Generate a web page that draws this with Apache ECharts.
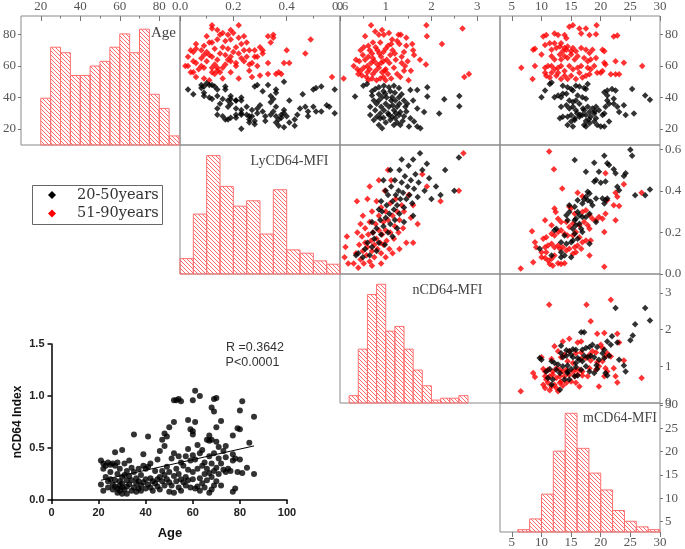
<!DOCTYPE html>
<html>
<head>
<meta charset="utf-8">
<script src="https://cdn.jsdelivr.net/npm/echarts@6.0.0/dist/echarts.min.js"></script>
<style>
html, body { margin: 0; padding: 0; background: #fff; }
#chart { width: 685px; height: 549px; }
</style>
</head>
<body>
<div id="chart"></div>
<script>
// ---- tick labels ----
const ageTicks = [20, 40, 60, 80];
const lyTicks = [0, 0.2, 0.4, 0.6];
const nTicks = [0, 1, 2, 3];
const mTicks = [5, 10, 15, 20, 25, 30];
const ageMinor = [30, 50, 70];
const lyMinor = [0.1, 0.3, 0.5];
const nMinor = [0.5, 1.5, 2.5];
const mMinor = [];

// ---- histograms (bin edges + bar heights as read on the panel's own axis) ----
const ageEdges = [20, 25, 30, 35, 40, 45, 50, 55, 60, 65, 70, 75, 80, 85, 90];
const ageHeights = [39.5, 72, 68.5, 54, 54, 60, 63, 72, 80.5, 68.5, 83.5, 42, 33, 15.5];
const lyEdges = [0, 0.05, 0.1, 0.15, 0.2, 0.25, 0.3, 0.35, 0.4, 0.45, 0.5, 0.55, 0.6];
const lyHeights = [0.074, 0.288, 0.569, 0.421, 0.326, 0.352, 0.192, 0.405, 0.116, 0.1, 0.063, 0.047];
const nEdges = [0.2, 0.4, 0.6, 0.8, 1.0, 1.2, 1.4, 1.6, 1.8, 2.0, 2.2, 2.4, 2.6, 2.8];
const nHeights = [0.2, 1.47, 2.96, 3.24, 1.96, 2.09, 1.47, 0.9, 0.47, 0.08, 0.13, 0.13, 0.2];
const mEdges = [6, 8, 10, 12, 14, 16, 18, 20, 22, 24, 26, 28, 30];
const mHeights = [3.3, 5.6, 10.9, 20.1, 28.2, 20.7, 15.4, 11.8, 7.4, 5.1, 3.9, 3.3];

// ---- scatter panels: [x, y] ----
// Age (y) vs LyCD64 (x)
const lyAgeRed = [[0.12,86],[0.12,84],[0.22,86],[0.14,83],[0.16,81],[0.19,83],[0.18,80],[0.20,81],[0.06,74],[0.09,73],[0.11,75],[0.12,75],[0.14,77],[0.17,76],[0.16,72],[0.19,77],[0.22,78],[0.24,79],[0.23,74],[0.25,75],[0.21,72],[0.24,70],[0.26,70],[0.28,70],[0.30,72],[0.31,70],[0.33,79],[0.35,80],[0.35,78],[0.34,75],[0.40,70],[0.47,68],[0.49,77],
  [0.02,60],[0.03,60],[0.04,70],[0.05,69],[0.06,71],[0.08,70],[0.05,63],[0.06,62],[0.08,65],[0.09,67],[0.10,69],[0.11,67],[0.12,66],[0.14,64],[0.13,61],[0.12,59],[0.14,57],[0.15,56],[0.16,59],[0.17,61],[0.18,64],[0.19,66],[0.19,63],[0.21,62],[0.21,60],[0.23,65],[0.24,63],[0.25,66],[0.26,61],[0.27,62],[0.28,66],[0.29,66],[0.31,68],[0.33,62],[0.29,60],[0.27,53],[0.30,54],[0.33,55],[0.36,55],[0.38,55],[0.37,56],[0.39,62],[0.41,62],[0.04,56],[0.05,56],[0.06,53],[0.09,52],[0.11,51],[0.12,56],[0.13,55],[0.14,59],[0.16,52],[0.19,56],[0.22,52],[0.57,53],[0.08,60],[0.09,59],[0.18,71],[0.20,69],[0.03,66],[0.07,58],[0.10,63],[0.15,68],[0.22,68],[0.17,67],[0.26,57],[0.13,71],[0.10,79],[0.15,80]];
const lyAgeBlack = [[0.03,45],[0.08,48],[0.08,46],[0.09,47],[0.10,49],[0.11,48],[0.12,48],[0.13,47],[0.14,45],[0.17,47],[0.09,41],[0.11,40],[0.12,39],[0.14,41],[0.16,39],[0.18,38],[0.19,39],[0.19,41],[0.21,38],[0.23,38],[0.15,36],[0.18,34],[0.19,36],[0.21,33],[0.23,32],[0.14,33],[0.14,29],[0.16,28],[0.17,26],[0.18,26],[0.19,27],[0.21,27],[0.21,29],[0.23,30],[0.23,20],[0.26,26],[0.27,28],[0.26,24],[0.28,23],[0.28,25],[0.29,30],[0.27,32],[0.26,28],[0.30,35],[0.29,33],[0.31,31],[0.32,28],[0.34,29],[0.35,31],[0.36,34],[0.34,41],[0.35,39],[0.36,45],[0.36,43],[0.34,37],[0.36,28],[0.38,29],[0.39,30],[0.37,26],[0.38,27],[0.36,24],[0.37,22],[0.39,21],[0.41,38],[0.39,32],[0.40,28],[0.44,29],[0.43,26],[0.43,22],[0.45,33],[0.47,34],[0.48,28],[0.48,31],[0.50,34],[0.51,31],[0.53,31],[0.55,35],[0.56,34],[0.58,30],[0.50,45],[0.51,46],[0.53,47],[0.58,45],[0.33,48],[0.39,50],[0.28,47],[0.29,48],[0.23,29],[0.25,29],[0.23,40],[0.21,38],[0.25,34],[0.17,45],[0.09,43],[0.05,42],[0.32,25],[0.41,24],[0.46,42],[0.31,44]];

// Age (y) vs nCD64 (x)
const nAgeRed = [[0.68,86],[1.89,86],[2.68,84],[1.90,79],[2.23,74],[0.55,79],[0.77,82],[0.85,80],[0.92,83],[0.96,80],[1.07,81],[1.14,77],[1.28,80],[1.33,80],[1.45,78],[1.25,76],[1.30,74],[1.45,73],[1.58,74],[1.60,70],[1.62,67],[1.75,64],[1.88,61],[0.45,70],[0.52,72],[0.62,73],[0.65,70],[0.70,68],[0.72,75],[0.78,72],[0.82,70],[0.86,68],[0.90,66],[0.95,69],[1.00,71],[1.05,73],[1.10,67],[1.15,70],[1.20,68],[1.22,64],[1.35,66],[1.40,69],[1.48,63],[1.42,60],[1.55,57],[1.40,57],[0.35,64],[0.42,63],[0.55,64],[0.62,66],[0.68,62],[0.75,63],[0.82,61],[0.90,62],[0.95,63],[1.02,64],[1.08,62],[0.30,60],[0.38,58],[0.45,57],[0.52,59],[0.60,56],[0.65,58],[0.72,55],[0.78,57],[0.85,59],[0.92,56],[1.00,58],[1.05,55],[0.40,55],[0.48,54],[0.58,53],[0.70,52],[0.80,51],[0.88,52],[0.95,53],[1.00,51],[1.12,52],[1.25,55],[1.32,53],[0.62,51],[2.72,53],[2.82,55],[0.08,52],[1.18,59],[1.50,51],[0.98,57],[0.50,67],[0.88,75],[1.12,74],[0.60,60],[1.35,62],[0.72,65]];
const nAgeBlack = [[0.51,47.5],[0.59,48.5],[0.77,45.4],[0.85,46.5],[0.96,47.5],[1.07,46.5],[1.18,47.5],[1.29,46],[1.54,44.8],[1.69,44.8],[1.91,46.5],[1.91,40.6],[2.28,38.8],[2.61,41],[2.61,34.4],[0.33,40.6],[0.70,41.3],[0.74,38.1],[0.85,38.1],[0.92,40.2],[0.99,42.3],[1.14,40.2],[1.21,38.1],[1.29,40.2],[1.40,38.1],[1.47,36],[1.69,32.9],[1.84,30.8],[2.17,29.8],[0.66,34],[0.77,31.9],[0.88,29.8],[0.96,31.9],[1.07,34],[1.18,31.9],[1.25,34],[1.32,30.8],[1.43,34],[0.81,27.7],[0.88,26.7],[1.07,28.8],[1.14,27.7],[1.21,26.7],[1.29,28.8],[1.54,26.7],[1.62,24.6],[0.85,22.5],[0.92,20.4],[1.18,22.5],[1.32,22.5],[1.51,21.5],[1.69,21.5],[1.76,20.4],[1.10,25.6],[0.66,28.8],[0.74,25.6],[0.95,44],[1.00,36],[1.10,44],[1.20,43],[1.35,42],[1.05,30],[1.15,35],[1.25,24],[0.80,36],[0.90,34],[1.40,28],[1.00,24],[0.70,44],[1.45,31],[1.60,38],[1.12,38],[0.95,27],[1.22,30],[1.30,36],[0.85,42],[1.02,40],[1.37,25]];

// Age (y) vs mCD64 (x)
const mAgeRed = [[14.7,85],[15.3,86],[16.4,84],[17.5,84],[19.3,86],[10.3,78.8],[10.8,79.8],[12.2,80.8],[12.8,79.8],[13.9,79.8],[14.2,77.7],[16.7,80.8],[18.1,79.8],[19.2,80.2],[22.2,78.8],[22.8,79.4],[8.6,70.4],[8.9,71],[10,67.3],[10.6,73.5],[11.4,74.6],[11.7,70.4],[12.2,74.6],[12.5,71.5],[13.1,72.5],[13.3,74.6],[13.6,69.4],[13.9,71.5],[14.2,70.4],[14.4,72.5],[15,69.4],[15.3,71.5],[15.8,69.4],[16.7,71.5],[17.5,70.4],[18.1,68.3],[18.6,70.4],[20.3,70.4],[20.6,69.4],[11.7,66.3],[12.2,64.2],[13.1,67.3],[13.3,64.2],[13.9,66.3],[14.4,65.2],[15,67.3],[15.6,64.2],[16.1,66.3],[17.2,65.2],[17.8,63.1],[18.3,64.2],[19.2,65.2],[20.6,62.1],[20.8,61],[22.5,63.1],[23.9,62.1],[27,60],[6.6,59],[8.9,60],[10.6,59],[11.1,60],[11.7,60],[12.2,57.9],[12.8,59],[13.3,60],[13.9,56.9],[14.7,60],[15.3,57.9],[16.1,59],[16.7,60],[17.8,59],[18.3,57.9],[18.9,60],[20,55.8],[21.7,54.8],[22.5,54.8],[23.1,54.8],[8.5,51.7],[10.6,55.8],[10.8,53.8],[11.4,52.7],[11.7,55.8],[12.5,53.8],[12.8,55.8],[13.3,51.7],[13.9,53.8],[14.4,51.7],[15,53.8],[15.8,51.7],[16.4,55.8],[16.9,52.7],[17.5,53.8],[18.1,54.8],[19.4,55.8],[20.3,56.9]];
const mAgeBlack = [[11.4,48.5],[11.7,49.6],[10.6,44.4],[10,40.2],[12.2,40.2],[12.8,41.3],[13.3,40.2],[13.6,42.3],[14.2,42.3],[13.6,47.5],[14.4,46.5],[15,45.4],[15.3,44.4],[15.8,47.5],[16.4,46.9],[17.2,46],[17.5,45.4],[17.8,48.5],[14.7,38.1],[15.3,37.1],[15.8,38.1],[16.1,41.3],[16.9,40.2],[17.5,39.2],[13.3,34],[14.2,35],[14.7,32.9],[15.3,34],[15.8,31.9],[16.4,36],[17.2,31.9],[17.8,34],[18.1,30.8],[18.6,32.9],[19.2,34],[19.7,31.9],[20.3,28.8],[20.6,29.8],[20.8,34],[21.1,38.1],[20.6,43.3],[21.1,44.4],[21.9,45.4],[22.5,44.4],[21.1,41.3],[22.2,39.2],[21.4,36],[22.2,36],[22.8,34],[23.1,30.8],[23.9,35],[24.2,28.8],[25.6,29.8],[25.3,45.4],[27.5,41.3],[28.3,38.5],[13.1,26.7],[13.6,27.7],[14.4,27.7],[15,28.8],[15.6,26.7],[16.4,27.7],[16.9,28.8],[17.5,28.8],[18.3,27.7],[18.9,29.8],[19.2,26.7],[17.2,22.5],[17.5,21.5],[18.1,23.5],[18.9,24.6],[19.4,22.5],[20,21.5],[20.6,21.5],[21.4,24.6],[15,24.6],[14.4,22.5],[15.3,21.5],[15.6,25.6],[16,30],[17,33],[18,26],[19,31],[16.5,29],[17.5,25]];

// LyCD64 (y) vs nCD64 (x)
const nLyRed = [[0.3,0.05],[0.35,0.1],[0.4,0.03],[0.42,0.14],[0.45,0.07],[0.48,0.18],[0.5,0.11],[0.52,0.05],[0.55,0.15],[0.55,0.22],[0.58,0.09],[0.6,0.13],[0.62,0.19],[0.65,0.06],[0.65,0.25],[0.68,0.16],[0.7,0.11],[0.7,0.3],[0.72,0.2],[0.75,0.14],[0.75,0.08],[0.78,0.24],[0.8,0.17],[0.8,0.35],[0.82,0.12],[0.85,0.21],[0.85,0.28],[0.88,0.15],[0.9,0.1],[0.9,0.32],[0.92,0.19],[0.95,0.25],[0.95,0.14],[0.98,0.4],[1.0,0.21],[1.0,0.3],[1.02,0.16],[1.05,0.26],[1.08,0.12],[1.1,0.34],[1.1,0.2],[1.12,0.45],[1.15,0.28],[1.18,0.17],[1.2,0.23],[1.22,0.36],[1.25,0.3],[1.28,0.2],[1.3,0.26],[1.35,0.33],[1.38,0.22],[1.4,0.3],[1.45,0.15],[1.5,0.38],[1.55,0.27],[1.6,0.33],[1.7,0.24],[1.8,0.48],[1.9,0.42],[2.2,0.35],[2.7,0.58],[2.6,0.4],[0.6,0.36],[0.5,0.28],[0.45,0.24],[0.38,0.2],[0.9,0.05],[1.0,0.08],[1.15,0.1],[0.7,0.04],[1.3,0.12],[0.85,0.45],[1.6,0.15],[0.65,0.42],[1.05,0.5],[0.12,0.13],[0.15,0.18],[0.1,0.08],[0.18,0.05],[0.37,0.35]];
const nLyBlack = [[0.4,0.1],[0.5,0.08],[0.55,0.12],[0.6,0.15],[0.65,0.09],[0.7,0.13],[0.72,0.2],[0.75,0.17],[0.8,0.11],[0.8,0.22],[0.85,0.15],[0.88,0.26],[0.9,0.19],[0.92,0.3],[0.95,0.23],[0.98,0.14],[1.0,0.27],[1.02,0.33],[1.05,0.2],[1.05,0.38],[1.08,0.29],[1.1,0.24],[1.12,0.42],[1.15,0.35],[1.18,0.31],[1.2,0.26],[1.2,0.45],[1.22,0.38],[1.25,0.33],[1.28,0.4],[1.3,0.29],[1.3,0.5],[1.32,0.36],[1.35,0.44],[1.38,0.39],[1.4,0.32],[1.42,0.47],[1.45,0.36],[1.48,0.42],[1.5,0.52],[1.52,0.38],[1.55,0.45],[1.58,0.34],[1.6,0.55],[1.62,0.41],[1.65,0.48],[1.7,0.37],[1.72,0.44],[1.75,0.58],[1.8,0.5],[1.85,0.4],[1.9,0.53],[1.95,0.46],[2.0,0.36],[2.1,0.42],[2.2,0.38],[2.3,0.5],[2.5,0.4],[2.6,0.56],[1.0,0.4],[0.9,0.35],[1.15,0.18],[1.25,0.22],[0.7,0.25],[1.4,0.25],[1.1,0.5],[1.35,0.55],[0.95,0.45],[1.6,0.28],[0.85,0.31],[0.35,0.09]];

// LyCD64 (y) vs mCD64 (x)
const mLyRed = [[11.3,0.589],[12.1,0.503],[13.5,0.411],[16.1,0.39],[16.9,0.374],[20.8,0.484],[23.9,0.431],[22.5,0.39],[22.8,0.371],[21.1,0.355],[22.2,0.331],[23.1,0.327],[26.9,0.39],[20.8,0.29],[20.3,0.265],[12.2,0.315],[12.4,0.298],[14.7,0.323],[15,0.315],[15.6,0.29],[16.9,0.298],[17.5,0.306],[18.1,0.282],[18.6,0.265],[19.2,0.258],[19.7,0.274],[10.6,0.258],[11.7,0.234],[12.8,0.266],[13.3,0.25],[14.2,0.25],[14.7,0.226],[15.3,0.242],[16.4,0.234],[17.2,0.25],[17.8,0.234],[18.1,0.218],[20.6,0.202],[22.5,0.258],[8.4,0.206],[8.9,0.153],[9.1,0.129],[10.3,0.169],[10.8,0.177],[11.7,0.194],[12.2,0.185],[12.8,0.202],[13.3,0.21],[13.9,0.194],[14.4,0.185],[15.3,0.185],[15.8,0.202],[16.4,0.177],[16.9,0.153],[17.5,0.161],[18.3,0.161],[10.6,0.129],[11.1,0.137],[11.7,0.145],[12.2,0.129],[12.8,0.137],[13.1,0.121],[13.6,0.129],[14.2,0.113],[14.7,0.121],[15.6,0.129],[16.1,0.137],[16.7,0.121],[18.1,0.089],[10,0.081],[10.6,0.077],[11.1,0.065],[11.7,0.073],[12.2,0.089],[12.8,0.052],[13.3,0.048],[13.9,0.052],[8.6,0.056],[6.5,0.027],[11.4,0.048],[11.9,0.04],[20.6,0.035],[10,0.105],[15.3,0.097],[15.8,0.105],[10.8,0.105]];
const mLyBlack = [[25,0.597],[25.3,0.568],[15.6,0.548],[20.6,0.568],[18.9,0.535],[17.5,0.492],[19.7,0.492],[21.1,0.532],[21.4,0.524],[22.2,0.503],[22.5,0.484],[24.2,0.484],[23.9,0.471],[19.2,0.452],[18.9,0.444],[20,0.439],[20.8,0.444],[22.8,0.419],[23.1,0.403],[25.8,0.379],[27.5,0.379],[28.3,0.406],[17.8,0.395],[18.1,0.387],[17.5,0.371],[17.2,0.358],[16.9,0.339],[17.8,0.355],[18.3,0.347],[19.2,0.363],[20.3,0.363],[20.8,0.355],[20.6,0.339],[21.1,0.363],[15.6,0.323],[16.1,0.298],[16.4,0.282],[16.9,0.274],[15.8,0.266],[15.6,0.258],[14.4,0.258],[14.2,0.282],[14.7,0.298],[16.4,0.242],[16.7,0.218],[16.9,0.202],[15.3,0.218],[15.6,0.194],[16.1,0.169],[15.3,0.161],[15,0.153],[13.9,0.185],[12.5,0.218],[12.2,0.21],[13.3,0.153],[14.2,0.145],[18.1,0.145],[13.3,0.105],[13.9,0.089],[15,0.081],[13.3,0.081],[11.7,0.089],[9.7,0.121],[14.7,0.331],[18.1,0.29],[19.2,0.25],[17.5,0.274],[18.6,0.331],[16.1,0.355],[15.8,0.234]];

// nCD64 (y) vs mCD64 (x)
const mNRed = [[11.3,2.68],[17.6,2.68],[21.7,2.82],[18.3,2.23],[19.4,1.89],[20.6,1.91],[22.8,1.89],[23.1,1.65],[14.7,1.75],[16.1,1.65],[16.7,1.68],[13.6,1.68],[12.2,1.55],[12.8,1.41],[13.9,1.32],[14.7,1.41],[15.8,1.36],[16.7,1.38],[18.1,1.32],[18.6,1.41],[19.2,1.38],[20,1.59],[20.3,1.5],[20.8,1.27],[21.1,1.36],[10,1.25],[11.7,1.2],[13.3,1.25],[14.4,1.14],[15.3,1.09],[16.7,1.2],[17.5,1.23],[18.3,1.16],[19.4,1.11],[20.3,1.14],[21.7,1.27],[23.9,1.16],[8.6,0.82],[8.9,0.71],[10.3,0.93],[10.6,0.86],[11.1,0.91],[11.9,0.86],[12.5,0.95],[13.1,0.91],[13.6,0.86],[14.2,0.91],[15.3,0.86],[15.8,0.91],[16.4,0.91],[16.9,0.86],[18.1,0.95],[19.2,0.91],[19.7,1],[20.8,0.95],[21.1,0.86],[22.2,0.95],[10.6,0.73],[10.8,0.64],[11.4,0.73],[11.9,0.77],[12.5,0.68],[13.1,0.73],[13.9,0.73],[14.7,0.77],[15.6,0.73],[16.1,0.77],[16.9,0.75],[17.8,0.73],[20.6,0.73],[22.5,0.73],[22.8,0.56],[26.9,0.68],[11.1,0.55],[11.7,0.45],[12.2,0.5],[13.1,0.55],[13.6,0.47],[14.2,0.55],[15,0.59],[15.8,0.55],[16.4,0.45],[19.7,0.45],[10.3,0.5],[10.6,0.41],[12.5,0.41],[6.5,0.32],[11.4,0.35],[12.8,0.32],[13.3,0.59]];
const mNBlack = [[22.5,2.59],[27.5,2.59],[28.3,2.25],[25.8,2.15],[25.4,1.84],[25,1.71],[16.7,1.93],[17.2,1.93],[21.1,1.68],[22.8,1.65],[21.7,1.59],[20.6,1.45],[19.4,1.53],[18.6,1.59],[18.1,1.53],[17.5,1.5],[16.9,1.45],[15.8,1.45],[15.3,1.47],[14.7,1.41],[14.2,1.44],[13.3,1.56],[13.3,1.36],[13.6,1.25],[14.2,1.29],[15,1.32],[15.3,1.25],[16.1,1.23],[16.4,1.18],[17.2,1.29],[17.8,1.25],[18.3,1.29],[18.9,1.25],[19.7,1.18],[20.6,1.23],[21.4,1.29],[23.1,1.18],[23.9,1.02],[24.2,0.86],[10,1.18],[9.7,1.23],[11.7,1.14],[12.2,1.09],[12.8,1.05],[13.6,1],[14.4,1.02],[15,0.93],[15.8,0.98],[16.7,0.91],[17.5,1],[18.1,0.86],[18.9,0.82],[19.4,0.93],[20.8,0.82],[21.1,0.75],[12.5,0.91],[13.1,0.82],[14.4,0.82],[15.6,0.73],[16.1,0.75],[10.8,0.86],[11.1,0.68],[14.7,0.64],[11.7,0.5],[13.1,0.36],[11.9,0.64],[13.9,0.64],[14.4,0.86],[11.4,0.93],[15.8,1.09],[16.9,1.14],[20.3,1.36],[21.9,1.82],[19.3,1.03]];

// ---- inset: nCD64 index vs age ----
const insetPoints = [[21,0.38],[21,0.15],[22,0.35],[22,0.09],[22,0.30],[23,0.33],[23,0.22],[24,0.36],[24,0.18],[24,0.12],[25,0.34],[25,0.27],[25,0.20],[26,0.35],[26,0.15],[26,0.10],[27,0.46],[27,0.33],[27,0.19],[27,0.13],[28,0.36],[28,0.25],[28,0.11],[28,0.07],[29,0.30],[29,0.18],[29,0.14],[29,0.09],[30,0.48],[30,0.22],[30,0.16],[30,0.12],[30,0.06],
  [31,0.35],[31,0.24],[31,0.10],[32,0.28],[32,0.19],[32,0.13],[32,0.06],[33,0.38],[33,0.23],[33,0.15],[34,0.31],[34,0.19],[34,0.09],[35,0.63],[35,0.27],[35,0.12],[36,0.21],[36,0.16],[36,0.08],[37,0.30],[37,0.18],[37,0.11],[38,0.24],[38,0.14],[38,0.09],[39,0.44],[39,0.33],[39,0.17],[40,0.30],[40,0.20],[40,0.11],
  [41,0.61],[41,0.32],[41,0.15],[42,0.35],[42,0.21],[42,0.12],[43,0.18],[43,0.09],[44,0.28],[44,0.16],[45,0.39],[45,0.20],[45,0.13],[46,0.47],[46,0.22],[46,0.10],[47,0.58],[47,0.18],[47,0.28],[48,0.52],[48,0.64],[48,0.24],[48,0.14],[49,0.61],[49,0.32],[49,0.20],[50,0.70],[50,0.27],[50,0.17],[50,0.08],
  [51,0.40],[51,0.14],[52,0.96],[52,0.75],[52,0.45],[52,0.23],[52,0.07],[53,0.96],[53,0.30],[53,0.18],[54,0.97],[54,0.42],[54,0.25],[54,0.12],[55,0.95],[55,0.36],[55,0.20],[55,0.09],[56,0.33],[56,0.17],[57,0.42],[57,0.22],[57,0.14],[58,0.49],[58,0.77],[58,0.29],[58,0.19],[59,0.68],[59,0.38],[59,0.12],[60,0.96],[60,0.66],[60,0.63],[60,0.43],[60,0.27],[60,0.20],
  [61,1.05],[61,0.75],[61,0.39],[61,0.11],[62,0.53],[62,0.30],[62,0.13],[63,1.00],[63,0.45],[63,0.21],[63,0.09],[64,0.48],[64,0.33],[64,0.16],[65,0.36],[65,0.25],[65,0.12],[66,0.58],[66,0.30],[66,0.19],[67,0.62],[67,0.57],[67,0.42],[67,0.26],[67,0.07],[68,0.89],[68,0.58],[68,0.35],[68,0.22],[68,0.10],[69,0.97],[69,0.85],[69,0.45],[69,0.28],[69,0.14],[70,0.98],[70,0.70],[70,0.56],[70,0.31],[70,0.18],
  [71,0.51],[71,0.40],[71,0.25],[72,0.76],[72,0.35],[72,0.14],[73,0.47],[73,0.29],[74,0.52],[74,0.41],[74,0.27],[75,0.30],[76,0.28],[77,0.62],[77,0.44],[77,0.38],[77,0.08],[78,0.40],[78,0.11],[79,0.69],[79,0.27],[80,0.86],[80,0.68],[80,0.39],[81,0.95],[81,0.26],[83,0.31],[84,0.55],[86,0.80],[86,0.25]];
const fitLine = [[21, 0.19], [86, 0.52]];

// ---- layout ----
const colX = [19, 180, 340, 500, 660];
const rowY = [14, 145, 274, 403, 532];
const keys = ['age', 'ly', 'n', 'm'];
const xRange = { age: [10, 90.5], ly: [0, 0.6], n: [0, 3.5], m: [3, 30] };
const yRange = { age: [9.7, 91.9], ly: [0, 0.62], n: [0, 3.52], m: [2.8, 30.4] };
const ticks = { age: ageTicks, ly: lyTicks, n: nTicks, m: mTicks };
const minor = { age: ageMinor, ly: lyMinor, n: nMinor, m: mMinor };
const hists = {
  age: [ageEdges, ageHeights], ly: [lyEdges, lyHeights],
  n: [nEdges, nHeights], m: [mEdges, mHeights]
};
const pairs = {
  '01': [lyAgeBlack, lyAgeRed], '02': [nAgeBlack, nAgeRed], '03': [mAgeBlack, mAgeRed],
  '12': [nLyBlack, nLyRed], '13': [mLyBlack, mLyRed], '23': [mNBlack, mNRed]
};

// hatch pattern for the histogram bars
const hatch = document.createElement('canvas');
hatch.width = 4; hatch.height = 4;
const hc = hatch.getContext('2d');
hc.strokeStyle = 'rgba(255,60,60,0.85)';
hc.lineWidth = 0.9;
hc.beginPath();
hc.moveTo(-1, -1); hc.lineTo(5, 5);
hc.moveTo(-1, 3); hc.lineTo(1, 5);
hc.moveTo(3, -1); hc.lineTo(5, 1);
hc.stroke();
const hatchFill = { image: hatch, repeat: 'repeat' };

const labelStyle = { fontFamily: 'Liberation Serif', fontSize: 13, color: '#555' };
const fmt = (k) => (v) => (k === 'ly' ? v.toFixed(1) : String(v));

const grids = [], xAxes = [], yAxes = [], series = [];
const extraX = [];

for (let r = 0; r < 4; r++) {
  for (let c = r; c < 4; c++) {
    const gi = grids.length;
    grids.push({
      left: colX[c], top: rowY[r],
      width: colX[c + 1] - colX[c], height: rowY[r + 1] - rowY[r],
      show: true, borderColor: '#8a8a8a', borderWidth: 1, backgroundColor: 'transparent'
    });
    const kx = keys[c], ky = keys[r];
    const topLabels = r === 0;
    const bottomLabels = r === 3 && c === 3;
    const showX = topLabels || bottomLabels;
    xAxes.push({
      type: 'value', gridIndex: gi, min: xRange[kx][0], max: xRange[kx][1],
      position: topLabels ? 'top' : 'bottom',
      axisLine: { show: false }, splitLine: { show: false },
      axisTick: { show: showX, inside: topLabels, length: 5, customValues: ticks[kx], lineStyle: { color: '#777' } },
      axisLabel: { show: showX, customValues: ticks[kx], margin: topLabels ? 3 : 4, formatter: fmt(kx), ...labelStyle }
    });
    if (topLabels && minor[kx].length) {
      extraX.push({
        type: 'value', gridIndex: gi, min: xRange[kx][0], max: xRange[kx][1], position: 'top',
        axisLine: { show: false }, splitLine: { show: false }, axisLabel: { show: false },
        axisTick: { show: true, inside: true, length: 2.5, customValues: minor[kx], lineStyle: { color: '#777' } }
      });
    }
    const rightLabels = c === 3;
    const leftLabels = c === 0 && r === 0;
    const showY = rightLabels || leftLabels;
    yAxes.push({
      type: 'value', gridIndex: gi, min: yRange[ky][0], max: yRange[ky][1],
      position: rightLabels ? 'right' : 'left',
      axisLine: { show: false }, splitLine: { show: false },
      axisTick: { show: showY, length: 3, customValues: ticks[ky], lineStyle: { color: '#777' } },
      axisLabel: { show: showY, customValues: ticks[ky], margin: 5, formatter: fmt(ky), ...labelStyle }
    });

    if (r === c) {
      const [edges, heights] = hists[kx];
      const base = yRange[ky][0];
      series.push({
        type: 'custom', xAxisIndex: gi, yAxisIndex: gi, silent: true,
        data: heights.map((h, i) => [edges[i], edges[i + 1], h]),
        encode: { x: [0, 1], y: 2 },
        renderItem: (params, api) => {
          const p0 = api.coord([api.value(0), api.value(2)]);
          const p1 = api.coord([api.value(1), base]);
          return {
            type: 'rect',
            shape: { x: p0[0], y: p0[1], width: p1[0] - p0[0], height: p1[1] - p0[1] },
            style: { fill: hatchFill, stroke: '#ff7070', lineWidth: 1 }
          };
        }
      });
    } else {
      const [black, red] = pairs['' + r + c];
      series.push({
        type: 'scatter', name: '51-90years', xAxisIndex: gi, yAxisIndex: gi, silent: true,
        data: red, symbol: 'diamond', symbolSize: 6.5, itemStyle: { color: '#ff0000' }
      });
      series.push({
        type: 'scatter', name: '20-50years', xAxisIndex: gi, yAxisIndex: gi, silent: true,
        data: black, symbol: 'diamond', symbolSize: 6.5, itemStyle: { color: '#000000' }
      });
    }
  }
}

// inset chart
const ig = grids.length;
grids.push({ left: 51.5, top: 344, width: 235.5, height: 156 });
const insetLabel = { fontFamily: 'Liberation Sans', fontSize: 11, fontWeight: 'bold', color: '#222' };
const insetXIndex = xAxes.length;
xAxes.push({
  type: 'value', gridIndex: ig, min: 0, max: 100, interval: 20,
  axisLine: { show: true, onZero: false, lineStyle: { color: '#000', width: 1.5 } },
  axisTick: { show: true, length: 4, lineStyle: { color: '#000', width: 1.5 } },
  axisLabel: { margin: 7, ...insetLabel }, splitLine: { show: false }
});
const insetYIndex = yAxes.length;
yAxes.push({
  type: 'value', gridIndex: ig, min: 0, max: 1.5, interval: 0.5,
  axisLine: { show: true, onZero: false, lineStyle: { color: '#000', width: 1.5 } },
  axisTick: { show: true, length: 4, lineStyle: { color: '#000', width: 1.5 } },
  axisLabel: { margin: 7, formatter: (v) => v.toFixed(1), ...insetLabel }, splitLine: { show: false }
});
series.push({
  type: 'scatter', xAxisIndex: insetXIndex, yAxisIndex: insetYIndex, silent: true,
  data: insetPoints, symbol: 'circle', symbolSize: 6, itemStyle: { color: '#000' }
});
series.push({
  type: 'line', xAxisIndex: insetXIndex, yAxisIndex: insetYIndex, silent: true,
  data: fitLine, symbol: 'none', lineStyle: { color: '#000', width: 1 }
});
extraX.forEach((a) => xAxes.push(a));

const serif = 'Liberation Serif';
const textEl = (text, x, y, font, align, color) => ({
  type: 'text', x: x, y: y, z: 100,
  style: { text: text, font: font, fill: color || '#444', align: align || 'center', verticalAlign: 'middle',
           textAlign: align || 'center', textVerticalAlign: 'middle' }
});
const diamond = (cx, cy, color) => ({
  type: 'polygon', z: 100,
  shape: { points: [[cx, cy - 4], [cx + 4, cy], [cx, cy + 4], [cx - 4, cy]] },
  style: { fill: color }
});

const graphic = [
  textEl('Age', 176, 33, '15px ' + serif, 'right'),
  textEl('LyCD64-MFI', 289.5, 161, '14px ' + serif),
  textEl('nCD64-MFI', 447.5, 290, '14px ' + serif),
  textEl('mCD64-MFI', 620, 418, '14px ' + serif),
  { type: 'rect', z: 99, shape: { x: 32.5, y: 185.5, width: 130, height: 39 },
    style: { fill: '#fff', stroke: '#666', lineWidth: 1 } },
  diamond(52, 195, '#000'),
  diamond(52, 213.5, '#ff0000'),
  textEl('20-50years', 77, 195, '14.5px DejaVu Serif', 'left', '#333'),
  textEl('51-90years', 77, 213.5, '14.5px DejaVu Serif', 'left', '#333'),
  textEl('R =0.3642', 255, 348, '12.5px Liberation Sans', 'center', '#333'),
  textEl('P<0.0001', 252.5, 363, '12.5px Liberation Sans', 'center', '#333'),
  textEl('Age', 170, 533, 'bold 13px Liberation Sans', 'center', '#111'),
  Object.assign(textEl('nCD64 Index', 0, 0, 'bold 12px Liberation Sans', 'center', '#111'),
    { x: 18, y: 422, rotation: Math.PI / 2 })
];

const chart = echarts.init(document.getElementById('chart'));
chart.setOption({
  animation: false,
  backgroundColor: '#fff',
  grid: grids,
  xAxis: xAxes,
  yAxis: yAxes,
  series: series,
  graphic: graphic
});
</script>
</body>
</html>
